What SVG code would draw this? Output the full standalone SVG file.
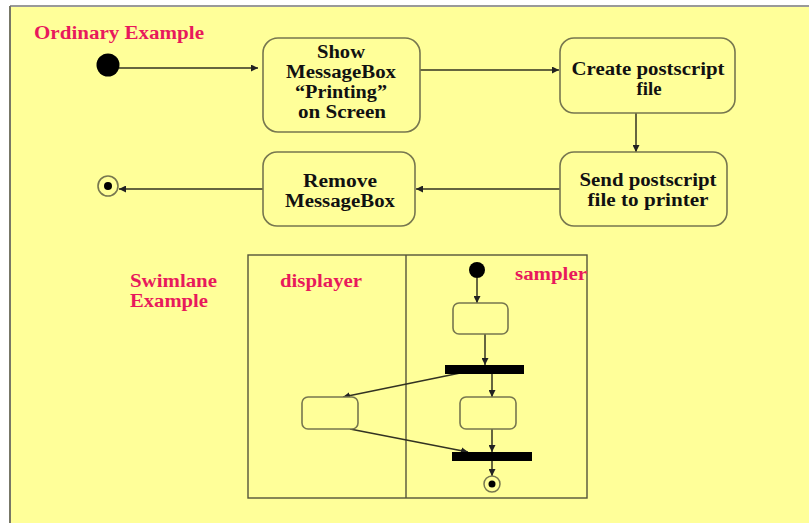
<svg xmlns="http://www.w3.org/2000/svg" width="809" height="523" viewBox="0 0 809 523">
<style>
.lbl{font-family:"Liberation Serif","Times New Roman",serif;font-weight:bold;font-size:18px;fill:#e8195c}
.txt{font-family:"Liberation Serif","Times New Roman",serif;font-weight:bold;font-size:18px;fill:#111;text-anchor:middle}
.box{fill:#ffff99;stroke:#77774f;stroke-width:1.6}
.con{fill:none;stroke:#333322;stroke-width:1.5}
.frame{fill:none;stroke:#55553a;stroke-width:1.4}
</style>
<defs>
<marker id="ah" viewBox="0 0 10 10" refX="10" refY="5" markerWidth="7" markerHeight="7" markerUnits="userSpaceOnUse" orient="auto">
<path d="M0,0 L10,5 L0,10 z" fill="#222"/>
</marker>
</defs>
<rect x="0" y="0" width="809" height="523" fill="#ffffff"/>
<rect x="10" y="6" width="799" height="517" fill="#ffff99"/>
<line x1="10" y1="6" x2="809" y2="6" stroke="#999999" stroke-width="2"/>
<line x1="10" y1="6" x2="10" y2="523" stroke="#777766" stroke-width="2"/>

<text class="lbl" x="34" y="39" textLength="170" lengthAdjust="spacingAndGlyphs">Ordinary Example</text>
<text class="lbl" x="130" y="287" textLength="87" lengthAdjust="spacingAndGlyphs">Swimlane</text>
<text class="lbl" x="130" y="307" textLength="78" lengthAdjust="spacingAndGlyphs">Example</text>

<g id="frame">
<rect class="frame" x="248" y="255" width="339" height="243"/>
<line class="frame" x1="406" y1="255" x2="406" y2="498"/>
<text class="lbl" x="280" y="287" textLength="82" lengthAdjust="spacingAndGlyphs">displayer</text>
<text class="lbl" x="515" y="280" textLength="72" lengthAdjust="spacingAndGlyphs">sampler</text>
</g>

<g id="connectors">
<line class="con" x1="119" y1="68" x2="258" y2="68" marker-end="url(#ah)"/>
<line class="con" x1="420" y1="70" x2="559" y2="70" marker-end="url(#ah)"/>
<line class="con" x1="636" y1="113" x2="636" y2="152" marker-end="url(#ah)"/>
<line class="con" x1="560" y1="189" x2="416" y2="189" marker-end="url(#ah)"/>
<line class="con" x1="263" y1="189" x2="119" y2="189" marker-end="url(#ah)"/>
<line class="con" x1="477" y1="278" x2="477" y2="303" marker-end="url(#ah)"/>
<line class="con" x1="485" y1="334" x2="485" y2="365" marker-end="url(#ah)"/>
<line class="con" x1="470" y1="371" x2="343" y2="397" marker-end="url(#ah)"/>
<line class="con" x1="492" y1="374" x2="492" y2="397" marker-end="url(#ah)"/>
<line class="con" x1="492" y1="429" x2="492" y2="452" marker-end="url(#ah)"/>
<line class="con" x1="350" y1="429" x2="468" y2="452" marker-end="url(#ah)"/>
<line class="con" x1="492" y1="461" x2="492" y2="476" marker-end="url(#ah)"/>
</g>

<g id="start1"><circle cx="108" cy="65" r="11.5" fill="#000"/></g>
<g id="show">
<rect class="box" x="263" y="38" width="157" height="94" rx="15"/>
<text class="txt" x="341" y="58" textLength="48" lengthAdjust="spacingAndGlyphs">Show</text>
<text class="txt" x="341" y="78" textLength="110" lengthAdjust="spacingAndGlyphs">MessageBox</text>
<text class="txt" x="341" y="98" textLength="92" lengthAdjust="spacingAndGlyphs">“Printing”</text>
<text class="txt" x="342" y="118" textLength="88" lengthAdjust="spacingAndGlyphs">on Screen</text>
</g>
<g id="create">
<rect class="box" x="560" y="38" width="175" height="75" rx="14"/>
<text class="txt" x="648" y="75" textLength="153" lengthAdjust="spacingAndGlyphs">Create postscript</text>
<text class="txt" x="649" y="95" textLength="25" lengthAdjust="spacingAndGlyphs">file</text>
</g>
<g id="send">
<rect class="box" x="560" y="152" width="167" height="74" rx="14"/>
<text class="txt" x="648" y="186" textLength="137" lengthAdjust="spacingAndGlyphs">Send postscript</text>
<text class="txt" x="648" y="206" textLength="121" lengthAdjust="spacingAndGlyphs">file to printer</text>
</g>
<g id="remove">
<rect class="box" x="263" y="152" width="152" height="74" rx="14"/>
<text class="txt" x="340" y="187" textLength="74" lengthAdjust="spacingAndGlyphs">Remove</text>
<text class="txt" x="340" y="207" textLength="110" lengthAdjust="spacingAndGlyphs">MessageBox</text>
</g>
<g id="end1">
<circle cx="108" cy="186" r="10" fill="#ffff99" stroke="#77774f" stroke-width="1.6"/>
<circle cx="108" cy="186" r="4" fill="#000"/>
</g>

<g id="start2"><circle cx="477" cy="270" r="8" fill="#000"/></g>
<g id="actA"><rect class="box" x="453" y="303" width="55" height="31" rx="6"/></g>
<g id="fork"><rect x="445" y="365" width="79" height="9" fill="#000"/></g>
<g id="actB"><rect class="box" x="460" y="397" width="56" height="32" rx="6"/></g>
<g id="actC"><rect class="box" x="302" y="397" width="56" height="32" rx="6"/></g>
<g id="join"><rect x="452" y="452" width="80" height="9" fill="#000"/></g>
<g id="end2">
<circle cx="492" cy="484" r="8" fill="#ffff99" stroke="#77774f" stroke-width="1.5"/>
<circle cx="492" cy="484" r="3.5" fill="#000"/>
</g>
</svg>
